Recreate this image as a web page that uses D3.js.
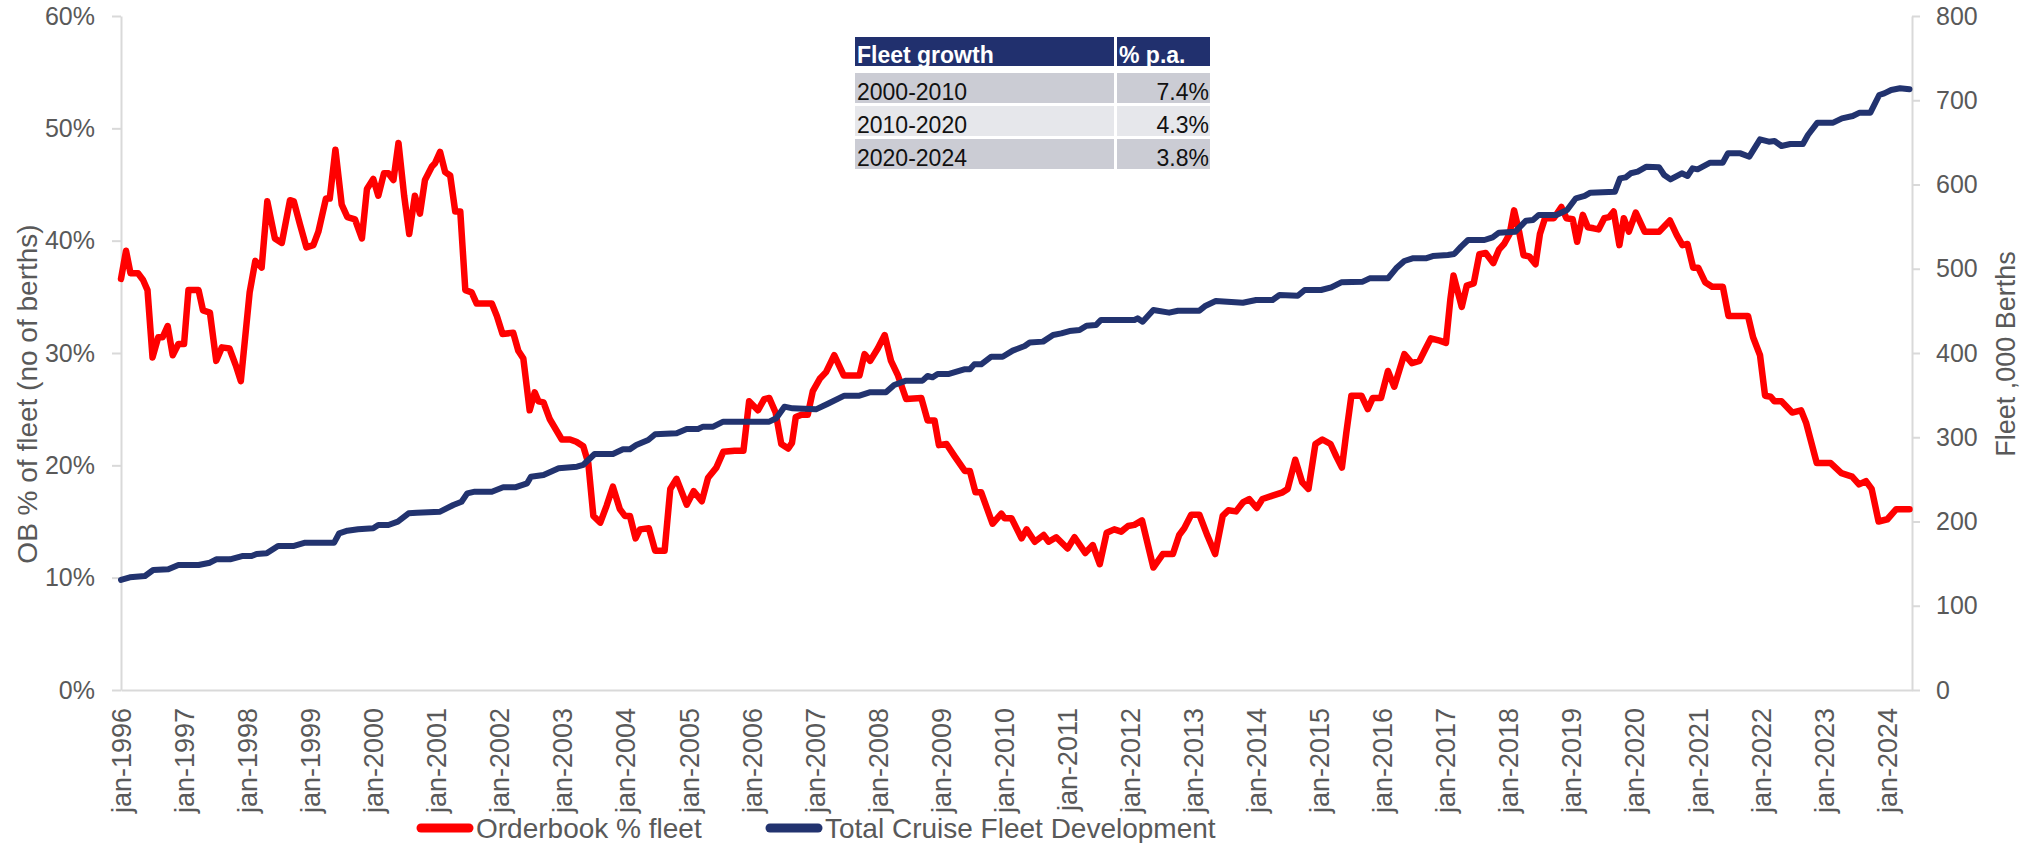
<!DOCTYPE html>
<html>
<head>
<meta charset="utf-8">
<script src="https://cdn.jsdelivr.net/npm/d3@7"></script>
<style>
  body { margin: 0; background: #fff; }
  svg text { font-family: "Liberation Sans", Arial, sans-serif; }
</style>
</head>
<body>
<svg id="chart"></svg>
<script>
// orderbook as % of fleet (decimal year, %)
var redYears = [1996.00,1996.08,1996.15,1996.27,1996.35,1996.42,1996.50,1996.59,1996.66,1996.74,1996.82,1996.91,1997.00,1997.07,1997.23,1997.30,1997.41,1997.51,1997.60,1997.72,1997.82,1997.90,1998.04,1998.13,1998.23,1998.32,1998.44,1998.55,1998.68,1998.74,1998.84,1998.94,1999.05,1999.13,1999.25,1999.31,1999.40,1999.50,1999.59,1999.71,1999.82,1999.90,2000.00,2000.08,2000.17,2000.24,2000.32,2000.40,2000.49,2000.57,2000.66,2000.74,2000.82,2000.93,2000.98,2001.06,2001.14,2001.22,2001.30,2001.38,2001.46,2001.56,2001.64,2001.88,2001.96,2002.05,2002.22,2002.30,2002.38,2002.48,2002.56,2002.62,2002.70,2002.80,2002.99,2003.12,2003.22,2003.33,2003.41,2003.49,2003.60,2003.70,2003.80,2003.91,2003.99,2004.07,2004.16,2004.23,2004.37,2004.47,2004.62,2004.71,2004.81,2004.97,2005.08,2005.21,2005.31,2005.44,2005.55,2005.73,2005.87,2005.96,2006.10,2006.20,2006.28,2006.38,2006.47,2006.58,2006.64,2006.70,2006.79,2006.89,2006.97,2007.08,2007.18,2007.31,2007.46,2007.71,2007.79,2007.88,2008.00,2008.11,2008.21,2008.32,2008.45,2008.69,2008.79,2008.90,2008.97,2009.09,2009.22,2009.38,2009.46,2009.55,2009.64,2009.82,2009.96,2010.01,2010.12,2010.28,2010.36,2010.49,2010.63,2010.71,2010.83,2011.01,2011.12,2011.29,2011.41,2011.52,2011.63,2011.75,2011.86,2011.97,2012.07,2012.19,2012.37,2012.52,2012.68,2012.78,2012.86,2012.97,2013.10,2013.23,2013.35,2013.47,2013.56,2013.68,2013.79,2013.89,2014.01,2014.10,2014.26,2014.42,2014.50,2014.62,2014.73,2014.83,2014.94,2015.05,2015.18,2015.27,2015.36,2015.43,2015.51,2015.67,2015.77,2015.85,2015.98,2016.09,2016.19,2016.35,2016.47,2016.59,2016.67,2016.77,2016.91,2017.01,2017.08,2017.13,2017.26,2017.34,2017.45,2017.54,2017.64,2017.76,2017.85,2017.93,2018.02,2018.09,2018.17,2018.24,2018.33,2018.43,2018.50,2018.58,2018.72,2018.84,2018.92,2019.02,2019.09,2019.18,2019.26,2019.35,2019.43,2019.52,2019.60,2019.67,2019.76,2019.83,2019.91,2020.02,2020.16,2020.39,2020.56,2020.67,2020.76,2020.84,2020.93,2021.01,2021.12,2021.23,2021.40,2021.49,2021.80,2021.88,2021.99,2022.07,2022.16,2022.22,2022.33,2022.50,2022.64,2022.72,2022.89,2023.11,2023.28,2023.45,2023.56,2023.67,2023.76,2023.87,2024.01,2024.15,2024.36]
var redPct = [36.6,39.1,37.1,37.1,36.5,35.6,29.6,31.4,31.4,32.4,29.8,30.8,30.8,35.6,35.6,33.8,33.6,29.3,30.5,30.4,28.9,27.5,35.4,38.2,37.6,43.5,40.2,39.8,43.6,43.5,41.4,39.4,39.6,40.8,43.75,43.75,48.1,43.2,42.1,41.9,40.2,44.6,45.5,44.0,46.0,46.0,45.4,48.7,44.0,40.6,44.0,42.4,45.4,46.6,46.9,47.9,46.1,45.8,42.6,42.6,35.6,35.4,34.4,34.4,33.3,31.7,31.8,30.2,29.5,24.9,26.5,25.7,25.6,24.1,22.3,22.3,22.1,21.7,20.2,15.5,14.9,16.4,18.1,16.1,15.5,15.5,13.5,14.3,14.4,12.4,12.4,17.9,18.8,16.5,17.7,16.8,18.9,19.8,21.2,21.3,21.3,25.7,24.9,25.9,26.0,24.7,21.9,21.5,22.0,24.3,24.5,24.5,26.6,27.7,28.3,29.8,28.0,28.0,29.9,29.3,30.4,31.6,29.3,28.0,25.9,26.0,24.0,24.0,21.8,21.9,20.8,19.5,19.5,17.6,17.6,14.8,15.7,15.3,15.3,13.5,14.3,13.2,13.8,13.2,13.6,12.6,13.6,12.2,12.9,11.2,14.0,14.3,14.1,14.6,14.7,15.1,10.9,12.1,12.1,13.8,14.4,15.6,15.6,13.7,12.1,15.5,16.0,15.9,16.7,17.0,16.2,17.0,17.3,17.6,17.9,20.5,18.5,17.9,21.9,22.3,21.9,20.8,19.8,22.9,26.2,26.2,25.0,26.0,26.0,28.4,27.0,29.9,29.1,29.3,30.2,31.3,31.1,30.9,34.8,36.9,34.1,36.0,36.2,38.8,38.9,38.0,39.2,39.7,40.6,42.7,40.8,38.7,38.6,37.9,40.6,42.0,42.0,43.0,42.0,41.9,39.9,42.3,41.2,41.1,41.0,42.0,42.1,42.6,39.6,42.0,40.8,42.5,40.8,40.8,41.8,40.5,39.6,39.7,37.6,37.6,36.3,35.9,35.9,33.3,33.3,31.4,29.8,26.2,26.1,25.7,25.7,24.7,24.9,23.8,20.2,20.2,19.3,19.0,18.3,18.6,17.9,15.0,15.2,16.1,16.1]

// total cruise fleet, '000 berths (decimal year, value)
var fleetYears = [1996.00,1996.14,1996.38,1996.51,1996.75,1996.91,1997.23,1997.41,1997.51,1997.73,1997.92,1998.07,1998.15,1998.31,1998.49,1998.73,1998.92,1999.38,1999.46,1999.59,1999.76,2000.00,2000.08,2000.24,2000.39,2000.56,2000.69,2001.06,2001.27,2001.40,2001.49,2001.61,2001.88,2002.06,2002.25,2002.44,2002.50,2002.70,2002.94,2003.23,2003.33,2003.41,2003.51,2003.80,2003.96,2004.07,2004.17,2004.36,2004.47,2004.81,2004.97,2005.15,2005.23,2005.39,2005.55,2006.28,2006.39,2006.52,2006.65,2007.02,2007.20,2007.47,2007.71,2007.87,2008.13,2008.26,2008.45,2008.71,2008.79,2008.87,2008.95,2009.13,2009.37,2009.46,2009.53,2009.64,2009.80,2009.98,2010.14,2010.33,2010.41,2010.62,2010.78,2010.91,2011.04,2011.20,2011.31,2011.46,2011.54,2012.07,2012.12,2012.20,2012.37,2012.62,2012.76,2013.10,2013.20,2013.36,2013.79,2014.00,2014.26,2014.37,2014.66,2014.77,2015.03,2015.19,2015.35,2015.69,2015.80,2016.09,2016.22,2016.35,2016.48,2016.69,2016.80,2017.04,2017.14,2017.25,2017.36,2017.62,2017.75,2017.85,2018.11,2018.28,2018.39,2018.48,2018.76,2018.93,2019.07,2019.21,2019.30,2019.69,2019.77,2019.86,2019.94,2020.05,2020.19,2020.39,2020.47,2020.57,2020.75,2020.84,2020.92,2021.00,2021.20,2021.40,2021.48,2021.68,2021.82,2021.99,2022.13,2022.22,2022.33,2022.47,2022.67,2022.75,2022.90,2023.15,2023.29,2023.46,2023.57,2023.74,2023.88,2023.96,2024.07,2024.21,2024.36]
var fleetBerths = [130.6,133.7,135.3,142.4,143.2,148.4,148.4,151.1,155.1,155.1,159.0,159.0,161.4,162.2,170.9,170.9,174.9,174.9,186.0,189.1,190.7,191.9,195.8,195.8,199.8,209.7,210.5,211.7,219.6,223.5,233.4,235.4,235.4,240.6,240.6,245.3,253.2,255.2,263.1,265.1,267.1,273.0,280.1,280.1,285.7,285.7,290.8,296.7,303.5,304.7,309.8,309.8,312.6,312.6,318.5,318.5,322.5,336.3,334.3,333.1,339.5,349.4,349.4,353.3,353.3,362.0,367.2,367.2,372.7,371.1,375.1,375.1,380.6,380.6,386.5,386.5,395.6,395.6,402.8,408.3,412.5,413.5,421.4,423.3,426.1,427.3,432.4,433.2,439.2,439.2,441.1,437.2,451.0,447.9,450.2,450.2,456.2,461.7,459.7,462.9,462.9,468.8,468.0,474.8,474.8,477.9,483.9,484.7,488.6,488.6,500.5,509.2,512.4,512.4,515.1,516.3,517.5,526.2,534.1,534.1,537.3,542.8,544.0,557.1,557.9,563.8,563.8,569.7,583.6,586.4,590.3,591.5,607.3,608.5,613.3,615.2,621.2,620.4,611.3,606.1,613.3,610.1,619.2,618.0,625.9,625.9,637.0,637.0,633.0,653.6,650.8,651.6,645.7,648.1,648.1,658.8,673.4,673.4,678.5,681.3,685.3,685.3,706.2,708.2,712.2,714.2,713.0]

var yearTicks = d3.range(1996, 2025)
var pctTicks = [0, 10, 20, 30, 40, 50, 60]
var berthTicks = [0, 100, 200, 300, 400, 500, 600, 700, 800]

var tableHead = ['Fleet growth', '% p.a.']
var tablePeriods = ['2000-2010', '2010-2020', '2020-2024']
var tableRates = ['7.4%', '4.3%', '3.8%']

var seriesNames = ['Orderbook % fleet', 'Total Cruise Fleet Development']
var leftTitle = 'OB % of fleet (no of berths)'
var rightTitle = 'Fleet ,000 Berths'

var W = 2040, H = 843
var plotL = 121, plotR = 1912, plotT = 16, plotB = 690
var red = '#ff0000', navy = '#22336f', grey = '#595959', axisGrey = '#d9d9d9'

var svg = d3.select('#chart').attr('width', W).attr('height', H)

var x = d3.scaleLinear().domain([1996, 2024.4]).range([plotL, plotR])
var yL = d3.scaleLinear().domain([0, 60]).range([plotB, plotT])
var yR = d3.scaleLinear().domain([0, 800]).range([plotB, plotT])

// axes
var gL = svg.append('g').attr('transform', 'translate(' + plotL + ',0)')
	.call(d3.axisLeft(yL).tickValues(pctTicks).tickSize(9).tickSizeOuter(0).tickPadding(17)
		.tickFormat(function(d) { return d + '%' }))
var gR = svg.append('g').attr('transform', 'translate(' + plotR + ',0)')
	.call(d3.axisRight(yR).tickValues(berthTicks).tickSize(8).tickSizeOuter(0).tickPadding(16))
var gB = svg.append('g').attr('transform', 'translate(0,' + plotB + ')')
	.call(d3.axisBottom(x).tickValues(yearTicks).tickSize(0).tickSizeOuter(0)
		.tickFormat(function(d) { return 'jan-' + d }))

gB.selectAll('.tick text')
	.attr('transform', 'rotate(-90)')
	.attr('x', -18).attr('y', 0).attr('dy', '0.35em')
	.style('text-anchor', 'end')
	.style('font-size', '27px')

;[gL, gR, gB].forEach(function(g) {
	g.select('.domain').attr('stroke', axisGrey).attr('stroke-width', 2)
	g.selectAll('.tick line').attr('stroke', axisGrey).attr('stroke-width', 2)
	g.selectAll('.tick text').attr('fill', grey).style('font-family', '"Liberation Sans", Arial, sans-serif')
})
gL.selectAll('.tick text').style('font-size', '25px')
gR.selectAll('.tick text').style('font-size', '25px')

// axis titles
svg.append('text')
	.attr('transform', 'translate(27,394) rotate(-90)')
	.attr('text-anchor', 'middle').attr('dy', '0.35em')
	.attr('fill', grey).style('font-size', '28px')
	.text(leftTitle)
svg.append('text')
	.attr('transform', 'translate(2006,354) rotate(-90)')
	.attr('text-anchor', 'middle').attr('dy', '0.35em')
	.attr('fill', grey).style('font-size', '27px')
	.text(rightTitle)

// lines
var redLine = d3.line()
	.x(function(d, i) { return x(redYears[i]) })
	.y(function(d) { return yL(d) })
var fleetLine = d3.line()
	.x(function(d, i) { return x(fleetYears[i]) })
	.y(function(d) { return yR(d) })

svg.append('path').datum(redPct)
	.attr('d', redLine)
	.attr('fill', 'none').attr('stroke', red).attr('stroke-width', 6.5)
	.attr('stroke-linejoin', 'round').attr('stroke-linecap', 'round')
svg.append('path').datum(fleetBerths)
	.attr('d', fleetLine)
	.attr('fill', 'none').attr('stroke', navy).attr('stroke-width', 6)
	.attr('stroke-linejoin', 'round').attr('stroke-linecap', 'round')

// growth table
var colX = [855, 1117], colW = [259, 93]
var table = svg.append('g')
svg.append('clipPath').attr('id', 'headClip')
	.append('rect').attr('x', 855).attr('y', 37).attr('width', 355).attr('height', 29)

tableHead.forEach(function(h, j) {
	table.append('rect').attr('x', colX[j]).attr('y', 37).attr('width', colW[j]).attr('height', 29)
		.attr('fill', '#21306e')
	table.append('text').attr('x', colX[j] + 2).attr('y', 63)
		.attr('clip-path', 'url(#headClip)')
		.attr('fill', '#fff').style('font-size', '23px').style('font-weight', 'bold')
		.text(h)
})
tablePeriods.forEach(function(p, i) {
	var top = 73 + i * 33
	var fill = i % 2 === 0 ? '#cbccd4' : '#e6e7eb'
	table.append('rect').attr('x', colX[0]).attr('y', top).attr('width', colW[0]).attr('height', 30).attr('fill', fill)
	table.append('rect').attr('x', colX[1]).attr('y', top).attr('width', colW[1]).attr('height', 30).attr('fill', fill)
	table.append('text').attr('x', colX[0] + 2).attr('y', top + 27)
		.attr('fill', '#111').style('font-size', '23px').text(p)
	table.append('text').attr('x', colX[1] + colW[1] - 1).attr('y', top + 27)
		.attr('text-anchor', 'end')
		.attr('fill', '#111').style('font-size', '23px').text(tableRates[i])
})

// legend
var legendX = [421, 770], legendColors = [red, navy]
var legend = svg.append('g').attr('transform', 'translate(0,828)')
seriesNames.forEach(function(name, i) {
	legend.append('line')
		.attr('x1', legendX[i]).attr('x2', legendX[i] + 48)
		.attr('y1', 0).attr('y2', 0)
		.attr('stroke', legendColors[i]).attr('stroke-width', 9).attr('stroke-linecap', 'round')
	legend.append('text')
		.attr('x', legendX[i] + 55).attr('dy', '0.35em')
		.attr('fill', grey).style('font-size', '28px')
		.text(name)
})
</script>
</body>
</html>
